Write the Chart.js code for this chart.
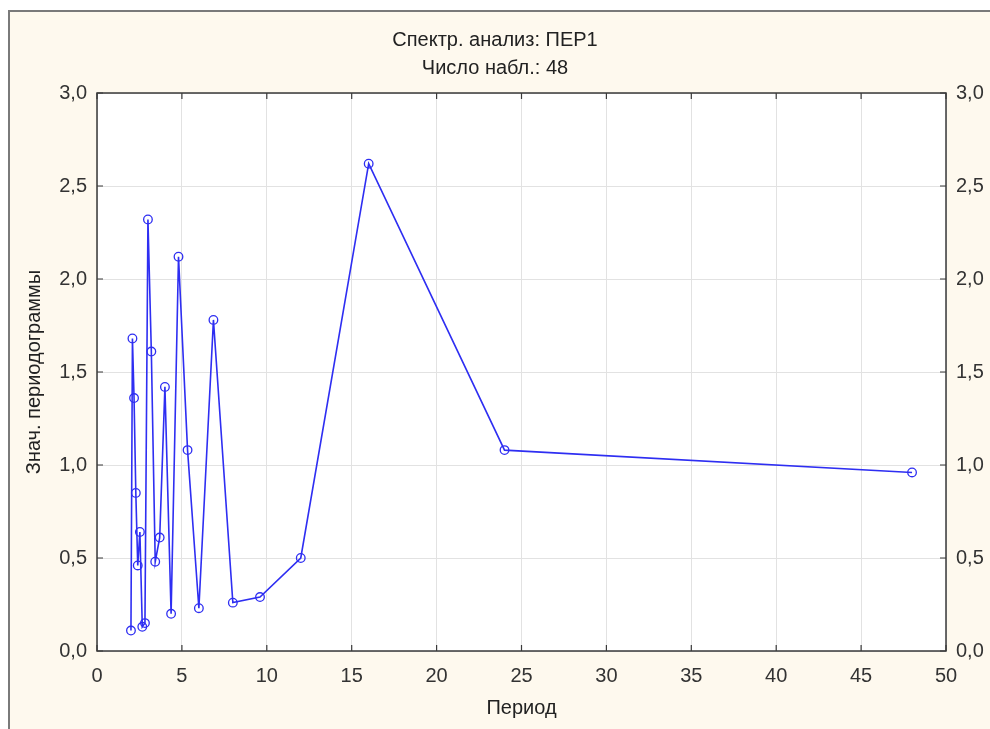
<!DOCTYPE html>
<html><head><meta charset="utf-8">
<script src="https://cdn.jsdelivr.net/npm/chart.js@4.4.1/dist/chart.umd.min.js"></script>
<style>html,body{margin:0;padding:0;background:#fff;}#wrap{width:990px;height:729px;position:relative;}</style>
</head><body><div id="wrap"><canvas id="c" width="990" height="729"></canvas></div>
<script>
const titleLines = ['Спектр. анализ: ПЕР1', 'Число набл.: 48'];
const xTitle = 'Период';
const yTitle = 'Знач. периодограммы';
const periods = [2, 2.087, 2.182, 2.286, 2.4, 2.526, 2.667, 2.824, 3, 3.2, 3.429, 3.692, 4, 4.364, 4.8, 5.333, 6, 6.857, 8, 9.6, 12, 16, 24, 48];
const values  = [0.11, 1.68, 1.36, 0.85, 0.46, 0.64, 0.13, 0.15, 2.32, 1.61, 0.48, 0.61, 1.42, 0.20, 2.12, 1.08, 0.23, 1.78, 0.26, 0.29, 0.50, 2.62, 1.08, 0.96];
const xTicks = [0, 5, 10, 15, 20, 25, 30, 35, 40, 45, 50];
const yTicks = [0, 0.5, 1.0, 1.5, 2.0, 2.5, 3.0];

const FONT = "'Liberation Sans', Arial, sans-serif";
const fmt = v => Number(v).toFixed(1).replace('.', ',');

const bgPlugin = {
  id: 'bg',
  beforeDraw(chart) {
    const {ctx, chartArea: a} = chart;
    ctx.save();
    ctx.fillStyle = '#ffffff';
    ctx.fillRect(0, 0, chart.width, chart.height);
    ctx.fillStyle = '#fef9ee';
    ctx.fillRect(9, 11, chart.width - 9, chart.height - 11);
    ctx.strokeStyle = '#7a7a7a';
    ctx.lineWidth = 2;
    ctx.beginPath();
    ctx.moveTo(9, chart.height); ctx.lineTo(9, 11); ctx.lineTo(chart.width, 11);
    ctx.stroke();
    ctx.fillStyle = '#ffffff';
    ctx.fillRect(a.left, a.top, a.right - a.left, a.bottom - a.top);
    ctx.restore();
  },
  afterDatasetsDraw(chart) {
    const {ctx, chartArea: a, scales} = chart;
    ctx.save();
    ctx.strokeStyle = '#3a3a3a';
    ctx.lineWidth = 1.5;
    ctx.strokeRect(a.left, a.top, a.right - a.left, a.bottom - a.top);
    ctx.lineWidth = 1.2;
    ctx.beginPath();
    const L = 6;
    xTicks.forEach(v => {
      const px = scales.x.getPixelForValue(v);
      ctx.moveTo(px, a.top); ctx.lineTo(px, a.top + L);
      ctx.moveTo(px, a.bottom); ctx.lineTo(px, a.bottom - L);
    });
    yTicks.forEach(v => {
      const py = scales.y.getPixelForValue(v);
      ctx.moveTo(a.left, py); ctx.lineTo(a.left + L, py);
      ctx.moveTo(a.right, py); ctx.lineTo(a.right - L, py);
    });
    ctx.stroke();
    ctx.restore();
  }
};

new Chart(document.getElementById('c'), {
  type: 'scatter',
  data: {
    datasets: [{
      data: periods.map((p, i) => ({x: p, y: values[i]})),
      showLine: true,
      borderColor: '#2e2ef2',
      borderWidth: 1.6,
      pointRadius: 4.3,
      pointHoverRadius: 4.3,
      pointBorderColor: '#2e2ef2',
      pointBackgroundColor: 'rgba(255,255,255,0)',
      pointBorderWidth: 1.3
    }]
  },
  options: {
    responsive: false,
    animation: false,
    layout: {padding: 0},
    plugins: {
      legend: {display: false},
      tooltip: {enabled: false},
      title: {
        display: true,
        text: titleLines,
        color: '#222',
        font: {family: FONT, size: 20, weight: 'normal', lineHeight: 1.4},
        padding: {top: 26, bottom: 11}
      }
    },
    scales: {
      x: {
        type: 'linear', min: 0, max: 50,
        afterFit(s) { s.height = 78; },
        afterBuildTicks(s) { s.ticks = xTicks.map(v => ({value: v})); },
        ticks: {color: '#333', font: {family: FONT, size: 20}, padding: 13, maxRotation: 0},
        grid: {color: '#e2e2e2', drawTicks: false},
        border: {display: false},
        title: {display: true, text: xTitle, color: '#222', font: {family: FONT, size: 20, lineHeight: 1.2}, padding: {top: 0, bottom: 9}}
      },
      y: {
        type: 'linear', position: 'left', min: 0, max: 3,
        afterFit(s) { s.width = 97; },
        afterBuildTicks(s) { s.ticks = yTicks.map(v => ({value: v})); },
        ticks: {color: '#333', font: {family: FONT, size: 20}, padding: 10, callback: fmt},
        grid: {color: '#e2e2e2', drawTicks: false},
        border: {display: false},
        title: {display: true, text: yTitle, color: '#222', font: {family: FONT, size: 20, lineHeight: 1.2}, padding: {top: 22, bottom: 0}}
      },
      y2: {
        type: 'linear', position: 'right', min: 0, max: 3,
        afterFit(s) { s.width = 44; },
        afterBuildTicks(s) { s.ticks = yTicks.map(v => ({value: v})); },
        ticks: {color: '#333', font: {family: FONT, size: 20}, padding: 10, callback: fmt},
        grid: {drawOnChartArea: false, drawTicks: false},
        border: {display: false}
      }
    }
  },
  plugins: [bgPlugin]
});
</script></body></html>
